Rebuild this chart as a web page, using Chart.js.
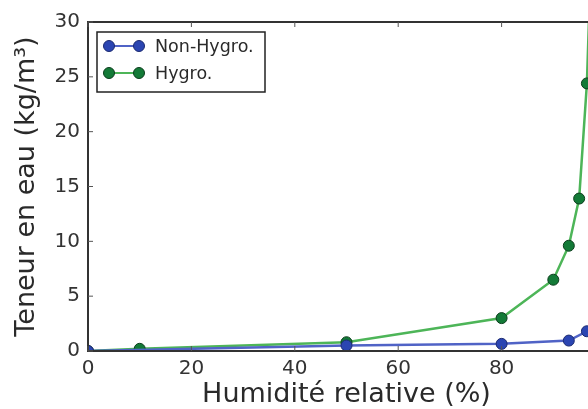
<!DOCTYPE html>
<html>
<head>
<meta charset="utf-8">
<script src="https://cdn.jsdelivr.net/npm/chart.js@4.4.0/dist/chart.umd.min.js"></script>
<style>
    body { margin: 0; overflow: hidden; background: #fff; }
    canvas { display: block; }
</style>
</head>
<body>
<canvas id="chart" width="640" height="409"></canvas>
<script>
// Values
const hygroHumidity = [0, 10, 50, 80, 90, 93, 95, 96.5, 100]
const hygroWater = [0, 0.2, 0.8, 3.0, 6.5, 9.6, 13.9, 24.4, 75]
const nonHygroHumidity = [0, 50, 80, 93, 96.5, 100]
const nonHygroWater = [0, 0.5, 0.65, 0.95, 1.8, 4]
const seriesNames = ["Non-Hygro.", "Hygro."]
const xTicks = [0, 20, 40, 60, 80, 100]
const yTicks = [0, 5, 10, 15, 20, 25, 30]

const toPoints = (xs, ys) => xs.map((x, i) => ({ x: x, y: ys[i] }))

// inward ticks + box frame + legend, like the matplotlib original
const framePlugin = {
    id: 'frame',
    afterDraw(chart) {
        const ctx = chart.ctx
        const area = chart.chartArea
        const xScale = chart.scales.x
        const yScale = chart.scales.y
        ctx.save()
        ctx.strokeStyle = '#333'
        ctx.lineWidth = 2
        ctx.strokeRect(area.left, area.top, area.right - area.left, area.bottom - area.top)

        ctx.lineWidth = 1
        ctx.strokeStyle = '#555'
        const len = 5
        xTicks.forEach(v => {
            const px = xScale.getPixelForValue(v)
            ctx.beginPath()
            ctx.moveTo(px, area.bottom); ctx.lineTo(px, area.bottom - len)
            ctx.moveTo(px, area.top); ctx.lineTo(px, area.top + len)
            ctx.stroke()
        })
        yTicks.forEach(v => {
            const py = yScale.getPixelForValue(v)
            ctx.beginPath()
            ctx.moveTo(area.left, py); ctx.lineTo(area.left + len, py)
            ctx.moveTo(area.right, py); ctx.lineTo(area.right - len, py)
            ctx.stroke()
        })

        // legend box
        const box = { x: area.left + 9, y: area.top + 10, w: 168, h: 60 }
        ctx.fillStyle = '#fff'
        ctx.fillRect(box.x, box.y, box.w, box.h)
        ctx.strokeStyle = '#222'
        ctx.lineWidth = 1.5
        ctx.strokeRect(box.x, box.y, box.w, box.h)

        chart.data.datasets.forEach((ds, i) => {
            const cy = box.y + 14 + i * 27
            const x1 = box.x + 12, x2 = box.x + 42
            ctx.strokeStyle = ds.borderColor
            ctx.lineWidth = 2
            ctx.beginPath()
            ctx.moveTo(x1, cy); ctx.lineTo(x2, cy)
            ctx.stroke()
            ;[x1, x2].forEach(px => {
                ctx.beginPath()
                ctx.arc(px, cy, 5.5, 0, Math.PI * 2)
                ctx.fillStyle = ds.pointBackgroundColor
                ctx.fill()
                ctx.lineWidth = 1
                ctx.strokeStyle = ds.pointBorderColor
                ctx.stroke()
            })
            ctx.fillStyle = '#2a2a2a'
            ctx.font = '17.5px "DejaVu Sans"'
            ctx.textBaseline = 'middle'
            ctx.fillText(ds.label, box.x + 58, cy + 1)
        })
        ctx.restore()
    }
}

new Chart(document.getElementById('chart'), {
    type: 'scatter',
    data: {
        datasets: [{
            label: seriesNames[0],
            data: toPoints(nonHygroHumidity, nonHygroWater),
            showLine: true,
            clip: 0,
            borderColor: '#5063c6',
            borderWidth: 2.5,
            pointBackgroundColor: '#2b45b2',
            pointBorderColor: '#1c2a70',
            pointBorderWidth: 1,
            pointRadius: 5.5
        }, {
            label: seriesNames[1],
            data: toPoints(hygroHumidity, hygroWater),
            showLine: true,
            clip: 0,
            borderColor: '#4db558',
            borderWidth: 2.5,
            pointBackgroundColor: '#137a37',
            pointBorderColor: '#0b3d1c',
            pointBorderWidth: 1,
            pointRadius: 5.5
        }]
    },
    options: {
        responsive: false,
        animation: false,
        layout: { padding: { top: 22, right: 35, left: 0, bottom: 0 } },
        plugins: {
            legend: { display: false },
            tooltip: { enabled: false }
        },
        scales: {
            x: {
                type: 'linear',
                min: 0,
                max: 100,
                afterFit: scale => { scale.height = 58 },
                afterBuildTicks: scale => { scale.ticks = xTicks.map(v => ({ value: v })) },
                grid: { display: true, drawOnChartArea: false, drawTicks: false },
                border: { display: false },
                ticks: { padding: 6, color: '#333', font: { family: 'DejaVu Sans', size: 20 } },
                title: {
                    display: true,
                    text: 'Humidité relative (%)',
                    color: '#2a2a2a',
                    font: { family: 'DejaVu Sans', size: 27 },
                    padding: { top: 0, bottom: -2 }
                }
            },
            y: {
                min: 0,
                max: 30,
                afterFit: scale => { scale.width = 88 },
                afterBuildTicks: scale => { scale.ticks = yTicks.map(v => ({ value: v })) },
                grid: { display: true, drawOnChartArea: false, drawTicks: false },
                border: { display: false },
                ticks: { padding: 8, color: '#333', font: { family: 'DejaVu Sans', size: 20 } },
                title: {
                    display: true,
                    text: 'Teneur en eau (kg/m³)',
                    color: '#2a2a2a',
                    font: { family: 'DejaVu Sans', size: 27 },
                    padding: { top: 11, bottom: 0 }
                }
            }
        }
    },
    plugins: [framePlugin]
});
</script>
</body>
</html>
